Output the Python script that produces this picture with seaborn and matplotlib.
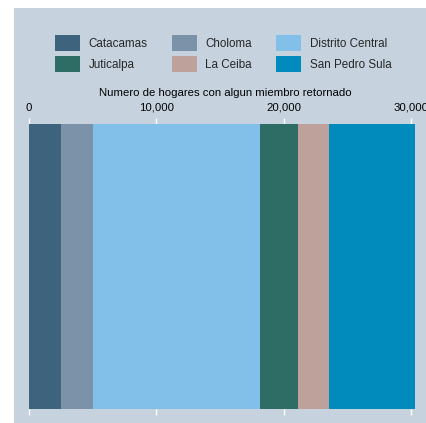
import matplotlib
matplotlib.use("Agg")
import matplotlib.pyplot as plt
import matplotlib.patches as mpatches
import matplotlib.ticker as mticker
import seaborn as sns
import numpy as np
import pandas as pd

municipios = ["Catacamas", "Choloma", "Distrito Central", "Juticalpa", "La Ceiba", "San Pedro Sula"]
hogares = [2514, 2514, 13118, 2985, 2435, 6756]
colores = ["#3e647d", "#7b92a8", "#82c0e9", "#2d6d66", "#bfa19c", "#008bbc"]
ticks = [0, 10000, 20000, 30000]
titulo_eje = "Numero de hogares con algun miembro retornado"

sns.set_theme(style="white")
plt.rcParams["font.family"] = ["Liberation Sans", "DejaVu Sans"]

W, H = 427, 423
FS_LEG = 8.4
FS_AX = 8.2
fig = plt.figure(figsize=(W / 100, H / 100), dpi=100)
fig.patch.set_facecolor("white")
bg = "#c6d3df"
fig.patches.append(mpatches.Rectangle((14 / W, 0), 1 - 14 / W, 1 - 8 / H,
                                      transform=fig.transFigure, facecolor=bg,
                                      edgecolor="none", zorder=-10))

ax = fig.add_axes([29 / W, 14 / H, (415 - 29) / W, (409 - 124) / H])
ax.set_zorder(1)
ax.set_facecolor(bg)

cum = np.cumsum(hogares)
df = pd.DataFrame({"municipio": municipios, "acum": cum, "grupo": ["g"] * len(municipios)})
for i in range(len(municipios) - 1, -1, -1):
    sns.barplot(data=df.iloc[[i]], x="acum", y="grupo", orient="h", color=colores[i],
                saturation=1, width=1.0, ax=ax, linewidth=0, edgecolor="none")

ax.set_xlim(0, cum[-1])
ax.set_ylim(0.5, -0.5)
ax.set_yticks([])
ax.set_ylabel("")
ax.set_xticks(ticks)
ax.xaxis.set_major_formatter(mticker.FuncFormatter(lambda v, p: f"{int(v):,}"))
ax.xaxis.set_label_position("top")
ax.set_xlabel(titulo_eje, fontsize=FS_AX, labelpad=5.2, color="black")
ax.xaxis.label.set_x(0.508)
ax.tick_params(axis="x", top=True, labeltop=True, bottom=True, labelbottom=False,
               direction="out", length=4.4, width=1, color="white", pad=3.7,
               labelsize=FS_AX, labelcolor="black")
for s in ax.spines.values():
    s.set_visible(False)

order = [0, 3, 1, 4, 2, 5]
handles = [mpatches.Patch(facecolor=colores[i], edgecolor="none", label=municipios[i]) for i in order]
fig.legend(handles=handles, loc="upper left", bbox_to_anchor=(55 / W, 1 - 35 / H),
           ncol=3, frameon=False, fontsize=FS_LEG, borderpad=0, borderaxespad=0,
           handlelength=2.14, handleheight=1.72, handletextpad=0.75,
           columnspacing=2.05, labelspacing=0.45)

fig.savefig("out.png", dpi=100, facecolor="white")
